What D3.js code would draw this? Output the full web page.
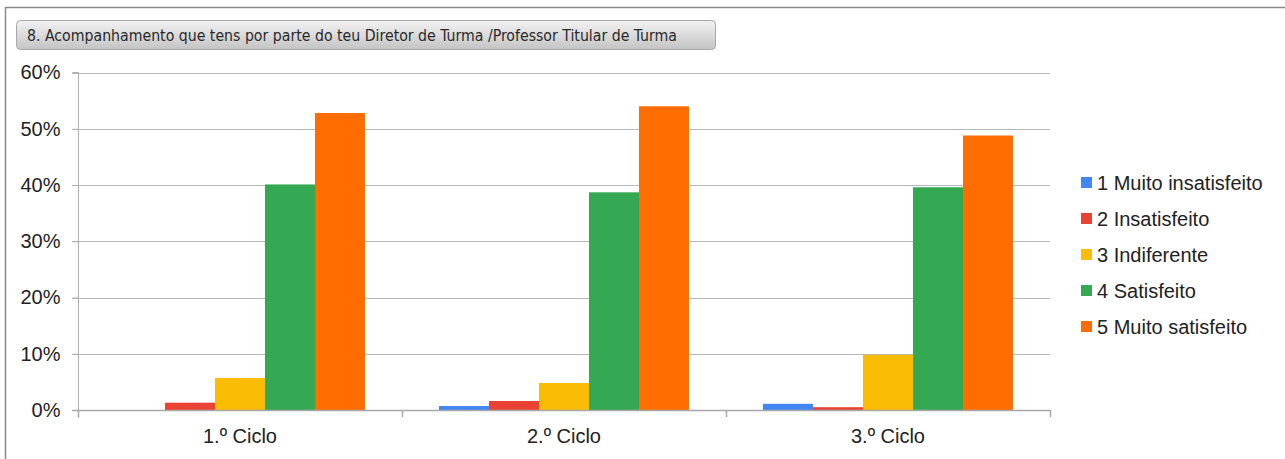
<!DOCTYPE html>
<html><head><meta charset="utf-8">
<script src="https://cdn.jsdelivr.net/npm/d3@7"></script>
<style>body{margin:0;background:#fff}svg{display:block}</style>
</head><body>
<svg id="c" width="1285" height="459"></svg>
<script>
const title = "8. Acompanhamento que tens por parte do teu Diretor de Turma /Professor Titular de Turma";
const categories = ["1.º Ciclo", "2.º Ciclo", "3.º Ciclo"];
const seriesNames = ["1 Muito insatisfeito", "2 Insatisfeito", "3 Indiferente", "4 Satisfeito", "5 Muito satisfeito"];
const seriesColors = ["#4285F4", "#EA4335", "#FBBC04", "#34A853", "#FF6D01"];
const muitoInsatisfeito = [0.0, 0.007, 0.011];
const insatisfeito = [0.013, 0.016, 0.005];
const indiferente = [0.057, 0.048, 0.098];
const satisfeito = [0.401, 0.387, 0.396];
const muitoSatisfeito = [0.528, 0.540, 0.488];
const yTicks = [0, 0.1, 0.2, 0.3, 0.4, 0.5, 0.6];
const series = [muitoInsatisfeito, insatisfeito, indiferente, satisfeito, muitoSatisfeito];

const FONT = "'Liberation Sans', Arial, sans-serif";
const svg = d3.select("#c");
// outer frame
svg.append("path").attr("d", "M5.5,459 V7.5 H1285").attr("fill","none").attr("stroke","#8a8a8a").attr("stroke-width",1.5);

// title box
const defs = svg.append("defs");
const g = defs.append("linearGradient").attr("id","tg").attr("x1",0).attr("y1",0).attr("x2",0).attr("y2",1);
g.append("stop").attr("offset","0%").attr("stop-color","#f2f2f2");
g.append("stop").attr("offset","100%").attr("stop-color","#c4c4c4");
svg.append("rect").attr("x",16.5).attr("y",20.5).attr("width",699).attr("height",29).attr("rx",4)
  .attr("fill","url(#tg)").attr("stroke","#a8a8a8");
svg.append("text").attr("x",27).attr("y",41).attr("font-family","'DejaVu Sans Condensed', 'DejaVu Sans', sans-serif")
  .attr("font-size",15.5).attr("fill","#2a2a2a").attr("textLength",650).attr("lengthAdjust","spacingAndGlyphs").text(title);

const m = {l:78, r:1050, t:72.5, b:410};
const x0 = d3.scaleBand().domain(categories).range([m.l, m.r]).paddingInner(0).paddingOuter(0);
const x1 = d3.scaleBand().domain(d3.range(series.length)).range([37, x0.bandwidth()-37]).padding(0);
const y = d3.scaleLinear().domain([0, 0.6]).range([m.b, m.t]);

// gridlines
svg.append("g").selectAll("line").data(yTicks.slice(1)).join("line")
  .attr("x1", m.l-6).attr("x2", m.r).attr("y1", d=>Math.round(y(d))+0.5).attr("y2", d=>Math.round(y(d))+0.5)
  .attr("stroke","#b8b8b8").attr("stroke-width",1);

// y axis
const yAxis = svg.append("g").attr("transform",`translate(${m.l+0.5},0)`)
  .call(d3.axisLeft(y).tickValues(yTicks).tickFormat(d3.format(".0%")).tickSize(6).tickPadding(12));
yAxis.select(".domain").attr("stroke","#b0b0b0").attr("d", `M-6,${m.t}H0V${m.b+8}`);
yAxis.selectAll(".tick line").attr("stroke","#b0b0b0");
yAxis.selectAll("text").attr("font-family",FONT).attr("font-size",20).attr("fill","#222");

// bars
const grp = svg.append("g").selectAll("g").data(categories).join("g")
  .attr("transform", d=>`translate(${x0(d)},0)`);
grp.selectAll("rect").data((d,i)=>series.map((s,j)=>({j, v:s[i]}))).join("rect")
  .attr("x", d=>x1(d.j)).attr("width", x1.bandwidth())
  .attr("y", d=>y(d.v)).attr("height", d=>m.b - y(d.v))
  .attr("fill", d=>seriesColors[d.j]);

// x axis
const xAxis = svg.append("g").attr("transform",`translate(0,${m.b+0.5})`)
  .call(d3.axisBottom(x0).tickSize(0).tickPadding(18));
xAxis.select(".domain").attr("stroke","#a8a8a8").attr("stroke-width",1.5).attr("d",`M${m.l-6},0H${m.r}`);
xAxis.selectAll("text").attr("font-family",FONT).attr("font-size",20).attr("fill","#222");
svg.append("g").selectAll("line").data([m.l, x0(categories[1]), x0(categories[2]), m.r]).join("line")
  .attr("x1", d=>d+0.5).attr("x2", d=>d+0.5).attr("y1", m.b).attr("y2", m.b+7)
  .attr("stroke","#a8a8a8").attr("stroke-width",1.5);

// legend
const leg = svg.append("g").attr("transform","translate(1081,183)");
const li = leg.selectAll("g").data(seriesNames).join("g").attr("transform",(d,i)=>`translate(0,${i*36})`);
li.append("rect").attr("x",0).attr("y",-6).attr("width",11).attr("height",11).attr("fill",(d,i)=>seriesColors[i]);
li.append("text").attr("x",16).attr("y",7).attr("font-family",FONT)
  .attr("font-size",20).attr("fill","#222").text(d=>d);
</script>
</body></html>
